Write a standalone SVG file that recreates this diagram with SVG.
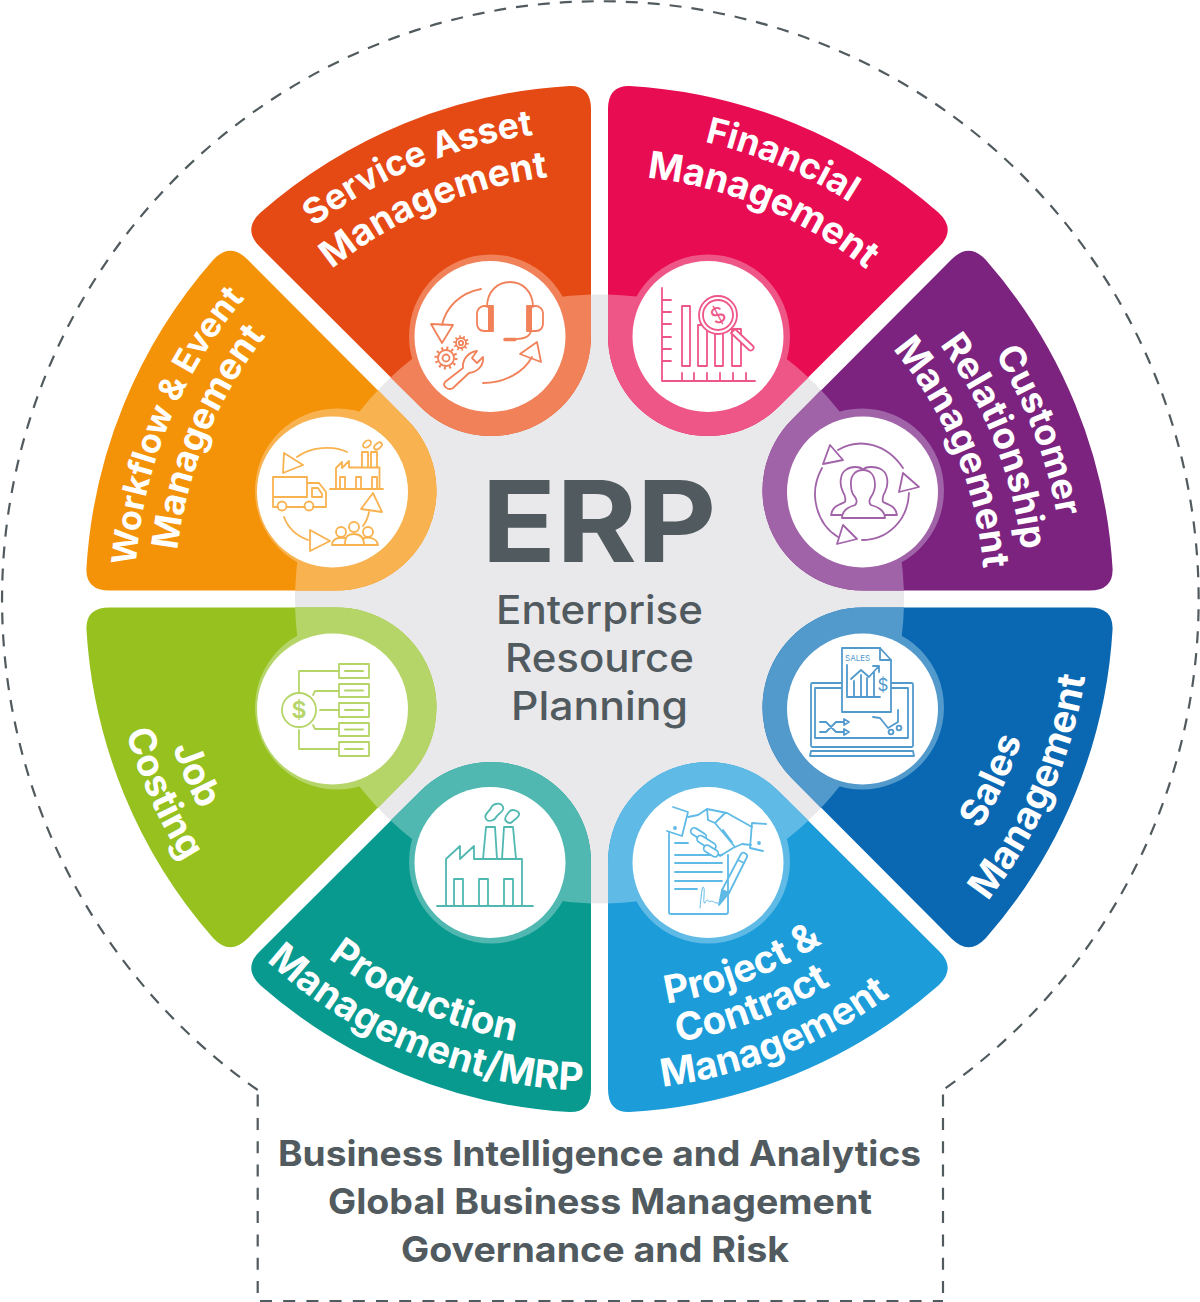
<svg xmlns="http://www.w3.org/2000/svg" width="1200" height="1302" viewBox="0 0 1200 1302">
<style>
.lbl{font-family:"Inter","Liberation Sans",sans-serif;font-weight:700;font-size:37.5px;fill:#fff;text-anchor:middle}
.big{font-size:38.5px}
.ctr{font-family:"Inter","Liberation Sans",sans-serif;fill:#515a5e;text-anchor:middle}
.bot{font-family:"Inter","Liberation Sans",sans-serif;font-weight:700;font-size:35px;fill:#515a5e;text-anchor:middle}
.wh{fill:#fff}
.ic{fill:none;stroke-width:1.8;stroke-linejoin:round;stroke-linecap:round}
.ic .w{fill:#fff}
.ic text{font-family:"Inter","Liberation Sans",sans-serif;stroke:none}
.dash{fill:none;stroke:#515a5e;stroke-width:2.2}
</style>
<defs>
<path id="sector" d="M8.5 -263.5V-490Q8.5 -513.5 30 -513.1A514 514 0 0 1 339.2 -386.2Q357 -369.5 339.7 -352.2L179.7 -192.8A100 100 0 0 1 8.5 -263.5Z"/>
<path id="lighten" d="M8.5 -304.4A304.5 304.5 0 0 1 209 -221.5L179.7 -192.8A100 100 0 0 1 8.5 -263.5ZM26.5 -262.5A82 82 0 1 1 190.5 -262.5A82 82 0 1 1 26.5 -262.5Z"/>
<path id="cw385" d="M-385 0A385 385 0 0 1 385 0"/>
<path id="cw424" d="M-424 0A424 424 0 0 1 424 0"/>
<path id="cw425" d="M-425 0A425 425 0 0 1 425 0"/>
<path id="cw465" d="M-465 0A465 465 0 0 1 465 0"/>
<path id="cw469" d="M-469 0A469 469 0 0 1 469 0"/>
<path id="ccw410" d="M-410 0A410 410 0 0 0 410 0"/>
<path id="ccw445" d="M-445 0A445 445 0 0 0 445 0"/>
<path id="ccw452" d="M-452 0A452 452 0 0 0 452 0"/>
<path id="ccw450" d="M-450 0A450 450 0 0 0 450 0"/>
<path id="ccw492" d="M-492 0A492 492 0 0 0 492 0"/>
</defs>

<g id="boundary">
<path class="dash" stroke-dasharray="12 10" d="M257.7 1090A598.3 598.3 0 1 1 943 1090"/>
<path class="dash" stroke-dasharray="12 11.3" d="M257.7 1293V1090M943 1293V1090"/>
<path class="dash" stroke-width="3" stroke-dasharray="12 11.2" d="M260 1301H943"/>
</g>
<g id="hub"><circle cx="599.5" cy="599" r="304.5" fill="#e9e9eb"/></g>

<g id="node-financial">
<g transform="translate(599.5 599)"><use href="#sector" fill="#e80d52"/><use href="#lighten" fill="#ef5688"/></g>
<circle class="wh" cx="708" cy="336.5" r="75.5"/>
<g class="ic" stroke="#ef5688">
<path d="M662 288V381H755M662 300H671M662 312H671M662 324H671M662 337H671M662 349H671M662 361H671M682 373V381M694 373V381M707 373V381M720 373V381M733 373V381M746 373V381"/>
<path d="M682 306H690V366H682ZM698 325H707V366H698ZM715 333H723V366H715ZM732 329H741V366H732Z"/>
<path class="w" d="M731 333L735 329L753 346C755 348 752 352 749 350Z"/>
<circle class="w" cx="718" cy="315" r="19"/><circle cx="718" cy="315" r="15"/>
<text x="718" y="323" font-size="22" text-anchor="middle" fill="#ef5688" transform="rotate(-28 718 315)">$</text>
</g>
<g transform="translate(599.5 599)"><text class="lbl" style="font-size:36px" transform="rotate(22.6)"><textPath href="#cw469" startOffset="50%">Financial</textPath></text><text class="lbl" transform="rotate(22.7)"><textPath href="#cw424" startOffset="50%">Management</textPath></text></g>
</g>

<g id="node-service">
<g transform="translate(599.5 599) matrix(-1 0 0 1 0 0)"><use href="#sector" fill="#e54a15"/><use href="#lighten" fill="#f08159"/></g>
<circle class="wh" cx="490" cy="336.5" r="75.5"/>
<g class="ic" stroke="#f08159">
<path d="M481 289C460 293 446 307 442 325"/><path d="M431 324L453 325L442 343Z"/>
<path d="M483 383C505 383 524 372 532 357"/><path d="M520 354L537 342L541 362Z"/>
<path d="M487 307C487 291 498 282 510 282C522 282 533 291 533 307"/>
<path d="M489 306H484C480 306 477 310 477 313V324C477 328 480 331 484 331H489ZM531 306H536C540 306 543 310 543 313V324C543 328 540 331 536 331H531Z"/>
<path fill="#f08159" d="M489 306H493V331H489ZM527 306H531V331H527Z"/>
<path d="M531 331C530 336 524 339 515 339"/><path stroke-width="3.5" d="M505 339.5H515"/>
<circle cx="446" cy="358" r="8"/><circle cx="446" cy="358" r="3.5"/><circle cx="446" cy="358" r="10" stroke-width="3" stroke-dasharray="2 3.24" stroke-linecap="butt"/>
<circle cx="461" cy="343" r="5"/><circle cx="461" cy="343" r="2.2"/><circle cx="461" cy="343" r="6.6" stroke-width="2.4" stroke-dasharray="1.6 2.55" stroke-linecap="butt"/>
<path d="M445 382L463 368C462 360 468 352 477 351L472 358L477 363L483 357C484 365 478 372 469 373L453 388C448 391 442 386 445 382Z"/>
</g>
<g transform="translate(599.5 599)"><text class="lbl" style="font-size:35.5px" transform="rotate(-22.8)"><textPath href="#cw469" startOffset="50%">Service Asset</textPath></text><text class="lbl" style="font-size:37px" transform="rotate(-23)"><textPath href="#cw425" startOffset="50%">Management</textPath></text></g>
</g>

<g id="node-customer">
<g transform="translate(599.5 599) matrix(0 -1 -1 0 0 0)"><use href="#sector" fill="#7c2380"/><use href="#lighten" fill="#a163a8"/></g>
<circle class="wh" cx="862.5" cy="492" r="75.5"/>
<g class="ic" stroke="#a163a8">
<path d="M838 450C860 437 887 444 903 468"/><path d="M909 493C908 520 888 540 862 540"/><path d="M838 537C818 525 807 495 822 468"/>
<path d="M830 445L843 460L823 464Z"/><path d="M903 473L919 487L899 492Z"/><path d="M843 525L857 539L837 544Z"/>
<path d="M842 515H831C832 507 838 505 845 502C846 498 845 495 843 492C841 488 840 483 841 478C842 471 848 467 855 467C860 467 862 468 863 470C864 468 866 467 871 467C880 467 886 471 887 478C888 483 887 488 885 492C883 495 882 498 883 502C890 505 896 507 897 515H884"/>
<path class="w" d="M842 518C842 510 848 507 855 505C857 503 857 500 855 497C852 494 851 490 851 485C850 475 856 470 863 470C870 470 875 475 875 485C875 490 873 494 871 497C869 500 869 503 871 505C878 507 885 510 885 518Z"/>
</g>
<g transform="translate(599.5 599)"><text class="lbl" style="font-size:36.5px" transform="rotate(69)"><textPath href="#cw465" startOffset="50%">Customer</textPath></text><text class="lbl" style="font-size:37px" transform="rotate(68.3)"><textPath href="#cw425" startOffset="50%">Relationship</textPath></text><text class="lbl" transform="rotate(67.5)"><textPath href="#cw385" startOffset="50%">Management</textPath></text></g>
</g>

<g id="node-sales">
<g transform="translate(599.5 599) matrix(0 1 -1 0 0 0)"><use href="#sector" fill="#0a68b2"/><use href="#lighten" fill="#5299cc"/></g>
<circle class="wh" cx="862.5" cy="709" r="75.5"/>
<g class="ic" stroke="#5299cc">
<rect x="811" y="683" width="102" height="64" rx="1.5"/><path d="M842 688H815V738H908V688H891"/><path d="M811 751H913L914 756H810Z"/>
<path class="w" d="M842 648H880L891 660V712H842Z"/><path d="M880 648V660H891"/>
<text x="845" y="661" font-size="8" fill="#5299cc">SALES</text>
<path d="M847 665V697H880M854 697V681M861 697V675M867 697V678M874 697V672M851 679L861 670L869 677L878 667M873 666H879V672"/>
<text x="883" y="691" font-size="17" text-anchor="middle" fill="#5299cc">$</text>
<path d="M820 722H826L836 732H844M820 732H826L836 722H844M844 719L849 722L844 725ZM844 729L849 732L844 735Z"/>
<path d="M873 717L880 718L888 728L898 722V710"/><circle cx="891" cy="732" r="2.4"/><circle cx="899" cy="728" r="2.4"/>
</g>
<g transform="translate(599.5 599)"><text class="lbl" transform="rotate(-65.2)"><textPath href="#ccw445" startOffset="50%">Sales</textPath></text><text class="lbl big" transform="rotate(-66.5)"><textPath href="#ccw492" startOffset="50%">Management</textPath></text></g>
</g>

<g id="node-project">
<g transform="translate(599.5 599) matrix(1 0 0 -1 0 0)"><use href="#sector" fill="#1d9cda"/><use href="#lighten" fill="#5fbae6"/></g>
<circle class="wh" cx="708" cy="862.5" r="75.5"/>
<g class="ic" stroke="#5fbae6">
<path d="M669 833V912Q669 914 671 914H726Q728 914 728 912V855"/>
<path d="M675 843H688M675 855H722M675 863H722M675 872H722M675 881H722M675 889H697"/>
<path d="M673 807L688 812L682 836L667 831"/><path d="M766 824L752 823L750 848L763 851"/>
<circle cx="675" cy="828" r="1" fill="#5fbae6"/><circle cx="759" cy="843" r="1" fill="#5fbae6"/>
<path d="M688 817L698 815L707 809L727 813L752 827M751 845L742 844L733 848L720 856M707 809L708 820L715 823L725 813M715 823L735 847M723 830L732 842"/>
<rect class="w" x="690" y="830.5" width="17" height="7" rx="3.5" transform="rotate(32 698.5 834)"/>
<rect class="w" x="696" y="839" width="21" height="7" rx="3.5" transform="rotate(32 706 842.5)"/>
<rect class="w" x="703" y="847.5" width="16" height="7" rx="3.5" transform="rotate(32 711 851)"/>
<path d="M741 854C743 851 748 854 747 857L729 893L722 890Z"/><path fill="#5fbae6" d="M722 890L729 893L719 905Z"/><path d="M738 860L744 863"/><path stroke-width="1" d="M700 908C701 898 702 887 703 887C706 887 702 905 705 903C707 898 708 901 710 902C712 899 714 904 718 903"/>
</g>
<g transform="translate(599.5 599)"><text class="lbl big" transform="rotate(-21.2)"><textPath href="#ccw410" startOffset="50%">Project &amp;</textPath></text><text class="lbl big" transform="rotate(-20.5)"><textPath href="#ccw450" startOffset="50%">Contract</textPath></text><text class="lbl big" transform="rotate(-21.8)"><textPath href="#ccw492" startOffset="50%">Management</textPath></text></g>
</g>

<g id="node-production">
<g transform="translate(599.5 599) matrix(-1 0 0 -1 0 0)"><use href="#sector" fill="#089a8f"/><use href="#lighten" fill="#50b8b1"/></g>
<circle class="wh" cx="490" cy="862.5" r="75.5"/>
<g class="ic" stroke="#50b8b1">
<path d="M437 906H533M446 906V859L460 846V859L474 846V859H522V906M454 906V879H463V906M479 906V879H488V906M504 906V879H513V906M483 859L486 827H495L497 859M502 859L504 827H513L516 859"/>
<path d="M486 819C483 815 489 812 491 808C493 803 501 802 503 807C505 811 499 813 497 816C495 820 489 823 486 819Z"/>
<path d="M506 821C503 818 507 815 509 812C512 808 520 811 519 815C518 818 514 820 512 822C510 824 508 823 506 821Z"/>
</g>
<g transform="translate(599.5 599)"><text class="lbl big" transform="rotate(24)"><textPath href="#ccw450" startOffset="50%">Production</textPath></text><text class="lbl big" transform="rotate(22.3)"><textPath href="#ccw492" startOffset="50%">Management/MRP</textPath></text></g>
</g>

<g id="node-job">
<g transform="translate(599.5 599) matrix(0 1 1 0 0 0)"><use href="#sector" fill="#96c11f"/><use href="#lighten" fill="#b6d569"/></g>
<circle class="wh" cx="332.5" cy="709" r="75.5"/>
<g class="ic" stroke="#b6d569">
<circle cx="299" cy="710" r="17"/>
<text x="299" y="718" font-size="23" font-weight="600" text-anchor="middle" fill="#b6d569">$</text>
<path d="M339 664H369V678H339ZM339 684H369V697H339ZM339 703H369V717H339ZM339 723H369V736H339ZM339 742H369V756H339Z"/>
<path stroke-width="2" d="M345 671H363M345 690.5H363M345 710H363M345 729.5H363M345 749H363"/>
<path d="M299 692V671H339M313 695L315 691H339M320 710H339M313 725L315 729H339M299 730V749H339"/>
</g>
<g transform="translate(599.5 599)"><text class="lbl" transform="rotate(66.5)"><textPath href="#ccw452" startOffset="50%">Job</textPath></text><text class="lbl" transform="rotate(66)"><textPath href="#ccw492" startOffset="50%">Costing</textPath></text></g>
</g>

<g id="node-workflow">
<g transform="translate(599.5 599) matrix(0 -1 1 0 0 0)"><use href="#sector" fill="#f59308"/><use href="#lighten" fill="#f8b250"/></g>
<circle class="wh" cx="332.5" cy="492" r="75.5"/>
<g class="ic" stroke="#f8b250">
<path d="M347 452C333 445 310 447 297 457M284 517C288 528 297 536 308 540M369 512C368 518 366 522 363 526"/>
<path d="M284 453L303 465L283 473ZM310 530L330 541L310 551ZM373 493L382 512L361 509Z"/>
<path d="M273 477H307V497H273ZM273 497V507H278M287 507H305M313 507H326V492L319 483H307V497M312 488H318L322 494V497H312Z"/>
<circle cx="282" cy="506" r="4.5"/><circle cx="309" cy="506" r="4.5"/>
<path d="M330 489H383M336 489V468L342 462V468L349 461V467.5H379.5V489M340 489V477H345V489M356 489V477H361V489M372 489V477H377V489M362 467V452H368V467M371 467V452H377V467"/>
<ellipse cx="367" cy="444" rx="4.5" ry="3" transform="rotate(-40 367 444)"/><ellipse cx="378" cy="446" rx="4.5" ry="2.6" transform="rotate(-40 378 446)"/>
<circle cx="341" cy="532" r="5"/><circle cx="354" cy="527" r="5"/><circle cx="368" cy="532" r="5"/>
<path d="M332 545H378M332 545C332 539 338 537 345 538M345 545C345 535 349 534 354 534C360 534 364 537 364 545M364 538C371 537 377 539 378 545"/>
</g>
<g transform="translate(599.5 599)"><text class="lbl" style="font-size:34px" transform="rotate(-67.8)"><textPath href="#cw465" startOffset="50%">Workflow &amp; Event</textPath></text><text class="lbl" style="font-size:36.5px" transform="rotate(-67.6)"><textPath href="#cw425" startOffset="50%">Management</textPath></text></g>
</g>

<g id="title">
<text class="ctr" x="599" y="562" font-size="113" font-weight="700" textLength="235" lengthAdjust="spacingAndGlyphs">ERP</text>
<text class="ctr" x="599.5" y="624" font-size="39" font-weight="500" textLength="207" lengthAdjust="spacingAndGlyphs">Enterprise</text>
<text class="ctr" x="599.5" y="672" font-size="39" font-weight="500" textLength="189" lengthAdjust="spacingAndGlyphs">Resource</text>
<text class="ctr" x="599.5" y="720" font-size="39" font-weight="500" textLength="177" lengthAdjust="spacingAndGlyphs">Planning</text>
</g>
<g id="footer">
<text class="bot" x="599.5" y="1166" textLength="643" lengthAdjust="spacingAndGlyphs">Business Intelligence and Analytics</text>
<text class="bot" x="600" y="1214" textLength="544" lengthAdjust="spacingAndGlyphs">Global Business Management</text>
<text class="bot" x="595" y="1262" textLength="388" lengthAdjust="spacingAndGlyphs">Governance and Risk</text>
</g>
</svg>
